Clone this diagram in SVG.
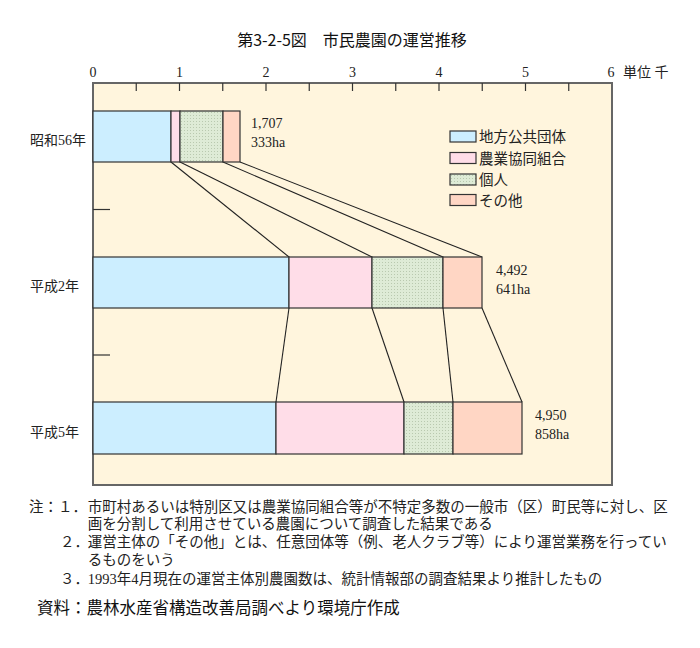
<svg xmlns="http://www.w3.org/2000/svg" width="700" height="648" viewBox="0 0 700 648">
<defs>
<pattern id="dots" width="3" height="3" patternUnits="userSpaceOnUse">
<rect width="3" height="3" fill="#DEEBD6"/>
<rect x="1" y="1" width="1" height="1" fill="#B9C9AF"/>
</pattern>
<style>
.ser{font-family:"Liberation Serif","Noto Sans CJK JP",serif;fill:#222}
.cjk{font-family:"Liberation Serif","Noto Sans CJK JP",serif;fill:#222}
.ttl{font-family:"Noto Sans CJK JP",sans-serif;fill:#111}
.seg{stroke:#333;stroke-width:1.2}
.c1{fill:#CCEEFF}.c2{fill:#FFDDE8}.c3{fill:url(#dots)}.c4{fill:#FFD6C4}
.tick{stroke:#333;stroke-width:1.2}
.conn{stroke:#222;stroke-width:1.1;fill:none}
</style>
</defs>
<rect width="700" height="648" fill="#fff"/>
<text class="ttl" x="352" y="46" font-size="16" text-anchor="middle">第3-2-5図　市民農園の運営推移</text>
<g id="axis">
<rect x="93" y="83" width="519" height="402" fill="#FFF5DD" stroke="#666" stroke-width="2"/>
<g class="tick">
<line x1="136.25" y1="83" x2="136.25" y2="91"/><line x1="179.5" y1="83" x2="179.5" y2="91"/>
<line x1="222.75" y1="83" x2="222.75" y2="91"/><line x1="266" y1="83" x2="266" y2="91"/>
<line x1="309.25" y1="83" x2="309.25" y2="91"/><line x1="352.5" y1="83" x2="352.5" y2="91"/>
<line x1="395.75" y1="83" x2="395.75" y2="91"/><line x1="439" y1="83" x2="439" y2="91"/>
<line x1="482.25" y1="83" x2="482.25" y2="91"/><line x1="525.5" y1="83" x2="525.5" y2="91"/>
<line x1="568.75" y1="83" x2="568.75" y2="91"/>
<line x1="93" y1="209.5" x2="110" y2="209.5"/><line x1="93" y1="355" x2="110" y2="355"/>
</g>
<g class="ser" font-size="14" text-anchor="middle">
<text x="93" y="77">0</text><text x="179.5" y="77">1</text><text x="266" y="77">2</text>
<text x="352.5" y="77">3</text><text x="439" y="77">4</text><text x="525.5" y="77">5</text>
<text x="611" y="77">6</text>
</g>
<text class="cjk" x="623" y="77" font-size="14">単位 千</text>
</g>
<g id="connectors" class="conn">
<line x1="171" y1="162" x2="289" y2="257"/>
<line x1="180" y1="162" x2="372" y2="257"/>
<line x1="223" y1="162" x2="443" y2="257"/>
<line x1="240" y1="162" x2="482" y2="257"/>
<line x1="289" y1="308" x2="276" y2="402"/>
<line x1="372" y1="308" x2="404" y2="402"/>
<line x1="443" y1="308" x2="453" y2="402"/>
<line x1="482" y1="308" x2="522" y2="402"/>
</g>
<g id="bar-s56">
<rect class="seg c1" x="93" y="111" width="78" height="51"/>
<rect class="seg c2" x="171" y="111" width="9" height="51"/>
<rect class="seg c3" x="180" y="111" width="43" height="51"/>
<rect class="seg c4" x="223" y="111" width="17" height="51"/>
<text class="cjk" x="30" y="145" font-size="14">昭和56年</text>
<text class="ser" x="251" y="128" font-size="14">1,707</text>
<text class="ser" x="251" y="147" font-size="14">333ha</text>
</g>
<g id="bar-h2">
<rect class="seg c1" x="93" y="257" width="196" height="51"/>
<rect class="seg c2" x="289" y="257" width="83" height="51"/>
<rect class="seg c3" x="372" y="257" width="71" height="51"/>
<rect class="seg c4" x="443" y="257" width="39" height="51"/>
<text class="cjk" x="30" y="291" font-size="14">平成2年</text>
<text class="ser" x="496" y="275" font-size="14">4,492</text>
<text class="ser" x="496" y="294" font-size="14">641ha</text>
</g>
<g id="bar-h5">
<rect class="seg c1" x="93" y="402" width="183" height="52"/>
<rect class="seg c2" x="276" y="402" width="128" height="52"/>
<rect class="seg c3" x="404" y="402" width="49" height="52"/>
<rect class="seg c4" x="453" y="402" width="69" height="52"/>
<text class="cjk" x="30" y="437" font-size="14">平成5年</text>
<text class="ser" x="535" y="420" font-size="14">4,950</text>
<text class="ser" x="535" y="439" font-size="14">858ha</text>
</g>
<g id="legend">
<rect class="seg c1" x="450" y="131" width="26" height="11"/>
<rect class="seg c2" x="450" y="152.5" width="26" height="11"/>
<rect class="seg c3" x="450" y="174" width="26" height="11"/>
<rect class="seg c4" x="450" y="194.5" width="26" height="11"/>
<g class="cjk" font-size="14.5">
<text x="479" y="142">地方公共団体</text>
<text x="479" y="163.5">農業協同組合</text>
<text x="479" y="185">個人</text>
<text x="479" y="205.5">その他</text>
</g>
</g>
<g id="notes" class="cjk" font-size="14.5">
<text x="29" y="512">注：１．</text>
<text x="87.7" y="512">市町村あるいは特別区又は農業協同組合等が不特定多数の一般市（区）町民等に対し、区</text>
<text x="87.7" y="529">画を分割して利用させている農園について調査した結果である</text>
<text x="60" y="547">２．</text>
<text x="87.7" y="547">運営主体の「その他」とは、任意団体等（例、老人クラブ等）により運営業務を行ってい</text>
<text x="87.7" y="565">るものをいう</text>
<text x="60" y="584">３．</text>
<text x="87.7" y="584">1993年4月現在の運営主体別農園数は、統計情報部の調査結果より推計したもの</text>
</g>
<text class="ttl" x="37" y="614" font-size="16.5">資料：農林水産省構造改善局調べより環境庁作成</text>
</svg>
